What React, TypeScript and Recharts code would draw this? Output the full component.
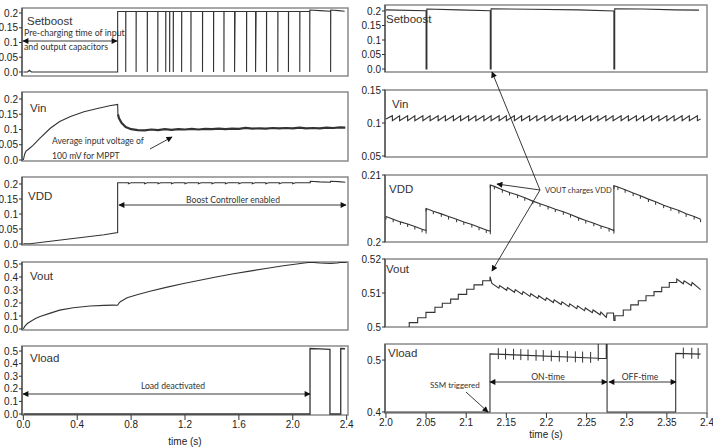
import React from "react";
import { ComposedChart, Line, Scatter, XAxis, YAxis, ReferenceArea } from "recharts";

type Pt = [number, number];

// axis ticks
const leftTimeTicks = [0, 0.4, 0.8, 1.2, 1.6, 2.0, 2.4];
const rightTimeTicks = [2.0, 2.05, 2.1, 2.15, 2.2, 2.25, 2.3, 2.35, 2.4];
const ticks02 = [0, 0.05, 0.1, 0.15, 0.2];
const ticks05 = [0, 0.1, 0.2, 0.3, 0.4, 0.5];
const vinRightTicks = [0.05, 0.1, 0.15];
const vddRightTicks = [0.2, 0.21];
const voutRightTicks = [0.5, 0.51, 0.52];
const vloadRightTicks = [0.4, 0.5];

// left column: whole run, 0 - 2.4 s
const setboostLeft: Pt[] = [
  [0, 0], [0.03, 0], [0.045, 0.006], [0.06, 0], [0.7, 0], [0.7, 0.205],
  [0.76, 0.205], [0.76, 0], [0.761, 0.205],
  [0.837, 0.205], [0.837, 0], [0.838, 0.205],
  [0.92, 0.205], [0.92, 0], [0.921, 0.205],
  [0.998, 0.205], [0.998, 0], [0.999, 0.205],
  [1.057, 0.205], [1.057, 0], [1.058, 0.205],
  [1.086, 0.205], [1.086, 0], [1.087, 0.205],
  [1.113, 0.205], [1.113, 0], [1.114, 0.205],
  [1.175, 0.205], [1.175, 0], [1.176, 0.205],
  [1.244, 0.205], [1.244, 0], [1.245, 0.205],
  [1.33, 0.205], [1.33, 0], [1.331, 0.205],
  [1.412, 0.205], [1.412, 0], [1.413, 0.205],
  [1.489, 0.205], [1.489, 0], [1.49, 0.205],
  [1.568, 0.205], [1.568, 0], [1.572, 0.205],
  [1.657, 0.205], [1.657, 0], [1.658, 0.205],
  [1.724, 0.205], [1.724, 0], [1.728, 0.205],
  [1.805, 0.205], [1.805, 0], [1.806, 0.205],
  [1.889, 0.205], [1.889, 0], [1.89, 0.205],
  [1.968, 0.205], [1.968, 0], [1.969, 0.205],
  [2.052, 0.205], [2.052, 0], [2.053, 0.205],
  [2.126, 0.205], [2.126, 0], [2.127, 0.21],
  [2.2, 0.208], [2.281, 0.206], [2.281, 0], [2.282, 0.21], [2.34, 0.208], [2.385, 0.206],
];

// Vin: charging curve, then the noisy MPPT plateau
const vinLeftRise: Pt[] = [
  [0, 0], [0.01, 0.02], [0.02, 0.029], [0.04, 0.036], [0.07, 0.047], [0.12, 0.07], [0.2, 0.104],
  [0.27, 0.126], [0.35, 0.143], [0.45, 0.158], [0.55, 0.169], [0.64, 0.178], [0.7, 0.182],
  [0.702, 0.15],
];
const vinLeftMppt: Pt[] = [
  [0.702, 0.15], [0.71, 0.137], [0.73, 0.121], [0.76, 0.108], [0.8, 0.101], [0.85, 0.098],
  [0.9, 0.097], [0.95, 0.1], [1.0, 0.098], [1.05, 0.101], [1.1, 0.099], [1.15, 0.101], [1.2, 0.1],
  [1.25, 0.102], [1.3, 0.1], [1.35, 0.102], [1.4, 0.101], [1.45, 0.103], [1.5, 0.101], [1.55, 0.103],
  [1.6, 0.102], [1.65, 0.105], [1.7, 0.103], [1.75, 0.104], [1.8, 0.103], [1.85, 0.105], [1.9, 0.104],
  [1.95, 0.105], [2.0, 0.104], [2.05, 0.106], [2.1, 0.104], [2.15, 0.105], [2.2, 0.104], [2.25, 0.106],
  [2.3, 0.105], [2.35, 0.107], [2.39, 0.106],
];

const vddLeft: Pt[] = [
  [0, 0.001], [0.05, 0.001], [0.2, 0.009], [0.4, 0.02], [0.6, 0.031], [0.7, 0.038], [0.7, 0.204],
  [0.78, 0.204], [0.78, 0.201], [0.8, 0.204], [0.9, 0.204], [0.9, 0.201], [0.92, 0.204],
  [1.0, 0.204], [1.0, 0.201], [1.02, 0.204], [1.1, 0.204], [1.1, 0.201], [1.12, 0.204],
  [1.2, 0.204], [1.2, 0.201], [1.22, 0.204], [1.3, 0.204], [1.3, 0.201], [1.32, 0.204],
  [1.4, 0.204], [1.4, 0.201], [1.42, 0.204], [1.5, 0.204], [1.5, 0.201], [1.52, 0.204],
  [1.6, 0.204], [1.6, 0.201], [1.62, 0.204], [1.7, 0.204], [1.7, 0.201], [1.72, 0.204],
  [1.8, 0.204], [1.8, 0.201], [1.82, 0.204], [1.9, 0.204], [1.9, 0.201], [1.92, 0.204],
  [2.0, 0.204], [2.0, 0.201], [2.02, 0.204], [2.13, 0.204], [2.13, 0.209], [2.2, 0.207],
  [2.28, 0.206], [2.28, 0.209], [2.34, 0.208], [2.39, 0.206],
];

const voutLeft: Pt[] = [
  [0, 0], [0.01, 0.02], [0.03, 0.042], [0.05, 0.056], [0.09, 0.08], [0.124, 0.097], [0.2, 0.122],
  [0.27, 0.145], [0.37, 0.163], [0.495, 0.177], [0.6, 0.182], [0.668, 0.184], [0.7, 0.183],
  [0.71, 0.2], [0.72, 0.21], [0.77, 0.24], [0.85, 0.265], [0.94, 0.29], [1.06, 0.32], [1.19, 0.35],
  [1.31, 0.375], [1.43, 0.4], [1.55, 0.423], [1.68, 0.445], [1.8, 0.466], [1.93, 0.486], [2.03, 0.5],
  [2.1, 0.51], [2.13, 0.514], [2.2, 0.508], [2.28, 0.504], [2.33, 0.508], [2.36, 0.514], [2.4, 0.512],
];

const vloadLeft: Pt[] = [
  [0, 0], [2.128, 0], [2.128, 0.52], [2.2, 0.517], [2.276, 0.514], [2.276, 0], [2.356, 0],
  [2.356, 0.52], [2.388, 0.518],
];

// right column: zoom 2.0 - 2.4 s
const setboostRight: Pt[] = [
  [2.0, 0.204], [2.05, 0.201], [2.05, 0], [2.051, 0], [2.051, 0.207], [2.09, 0.204], [2.13, 0.201],
  [2.13, 0], [2.131, 0], [2.131, 0.208], [2.18, 0.206], [2.24, 0.204], [2.284, 0.2], [2.284, 0],
  [2.285, 0], [2.285, 0.208], [2.32, 0.207], [2.36, 0.204], [2.39, 0.203],
];

const vinRightDrops = [
  2.008, 2.017, 2.027, 2.036, 2.046, 2.055, 2.065, 2.074, 2.084, 2.093, 2.103, 2.112, 2.122, 2.131,
  2.141, 2.15, 2.16, 2.169, 2.179, 2.188, 2.198, 2.207, 2.217, 2.226, 2.236, 2.245, 2.255, 2.264,
  2.274, 2.283, 2.293, 2.302, 2.312, 2.321, 2.331, 2.34, 2.35, 2.359, 2.369, 2.378, 2.388,
];
const vinRightLevels = { low: 0.1035, high: 0.111, start: 0.106, end: 0.106 };

const vddRight: Pt[] = [
  [2.0, 0.2038], [2.009, 0.2034], [2.018, 0.203], [2.027, 0.2027], [2.036, 0.2023], [2.045, 0.2019], [2.05, 0.2017],
  [2.05, 0.205], [2.059, 0.2046], [2.069, 0.2042], [2.078, 0.2038], [2.088, 0.2034], [2.097, 0.203],
  [2.107, 0.2026], [2.116, 0.2022], [2.125, 0.2018], [2.13, 0.2016],
  [2.13, 0.2085], [2.135, 0.2083], [2.145, 0.2078], [2.154, 0.2074], [2.164, 0.207], [2.173, 0.2066],
  [2.183, 0.2061], [2.192, 0.2057], [2.202, 0.2053], [2.211, 0.2049], [2.221, 0.2045], [2.23, 0.2041],
  [2.24, 0.2036], [2.249, 0.2032], [2.259, 0.2028], [2.268, 0.2024], [2.278, 0.202], [2.284, 0.2017],
  [2.284, 0.2084], [2.289, 0.2082], [2.298, 0.2078], [2.308, 0.2073], [2.317, 0.2069], [2.327, 0.2064],
  [2.336, 0.206], [2.346, 0.2055], [2.355, 0.2051], [2.365, 0.2047], [2.374, 0.2042], [2.384, 0.2038],
  [2.392, 0.2034],
];

const voutRight: Pt[] = [
  [2.029, 0.4995], [2.029, 0.5013], [2.0395, 0.5013], [2.0395, 0.5027], [2.0498, 0.5027], [2.0498, 0.5043],
  [2.061, 0.5043], [2.061, 0.5058], [2.0702, 0.5058], [2.0702, 0.507], [2.0806, 0.507], [2.0806, 0.5082],
  [2.0901, 0.5082], [2.0901, 0.5096], [2.1006, 0.5096], [2.1006, 0.5111], [2.1097, 0.5111], [2.1097, 0.5124],
  [2.1205, 0.5124], [2.1205, 0.5136], [2.1296, 0.5136], [2.1296, 0.5148],
  [2.132, 0.5128], [2.1407, 0.5114], [2.1417, 0.5122], [2.1504, 0.5108], [2.1514, 0.5116], [2.1601, 0.5102],
  [2.1611, 0.511], [2.1698, 0.5096], [2.1708, 0.5104], [2.1795, 0.509], [2.1805, 0.5098], [2.1892, 0.5084],
  [2.1902, 0.5092], [2.1989, 0.5078], [2.1999, 0.5086], [2.2086, 0.5072], [2.2096, 0.508], [2.2183, 0.5066],
  [2.2193, 0.5074], [2.228, 0.506], [2.229, 0.5068], [2.2377, 0.5054], [2.2387, 0.5062], [2.2474, 0.5048],
  [2.2484, 0.5056], [2.2571, 0.5042], [2.2581, 0.505], [2.2668, 0.5036], [2.2678, 0.5044], [2.2745, 0.5028],
  [2.2755, 0.5041], [2.2835, 0.5041], [2.284, 0.5019], [2.2854, 0.5019], [2.2854, 0.5033], [2.2957, 0.5033],
  [2.2957, 0.505], [2.305, 0.505], [2.305, 0.5065], [2.3144, 0.5065], [2.3144, 0.5077], [2.324, 0.5077],
  [2.324, 0.5092], [2.334, 0.5092], [2.334, 0.5104], [2.3436, 0.5104], [2.3436, 0.5117], [2.353, 0.5117],
  [2.353, 0.5131], [2.3623, 0.5131], [2.3623, 0.5141], [2.3705, 0.5127], [2.3715, 0.5136], [2.3805, 0.5122],
  [2.3815, 0.5131], [2.392, 0.511],
];

const vloadRight: Pt[] = [
  [2.0, 0.4], [2.1296, 0.4], [2.1296, 0.512], [2.2645, 0.5036], [2.2645, 0.531], [2.2645, 0.4985],
  [2.2645, 0.5036], [2.2745, 0.503], [2.2745, 0.531], [2.2755, 0.531], [2.2755, 0.4], [2.361, 0.4],
  [2.361, 0.513], [2.392, 0.5115],
];

const vloadRightSpikes: Pt[] = [
  [2.14, 0.5114], [2.149, 0.5108], [2.159, 0.5102], [2.168, 0.5096], [2.177, 0.509], [2.187, 0.5084],
  [2.196, 0.5079], [2.206, 0.5072], [2.216, 0.5066], [2.226, 0.506], [2.236, 0.5053], [2.245, 0.5048],
  [2.255, 0.5042], [2.3705, 0.5126], [2.381, 0.5122], [2.389, 0.5118],
];

const vinRight: Pt[] = [
  [2.0, vinRightLevels.start],
  ...vinRightDrops.flatMap((t): Pt[] => [[t, vinRightLevels.high], [t, vinRightLevels.low]]),
  [2.392, vinRightLevels.end],
];

const INK = "#333";
const BOX = "#8a8a8a";
const axisFont = { fontSize: 10, fill: "#222", fontFamily: "Liberation Sans, Arial, sans-serif" };

const fmt = (v: number) => (Number.isInteger(v) ? v.toFixed(1) : String(v));
const toRows = (pts: Pt[]) => pts.map(([t, v]) => ({ t, v }));

interface Series {
  rows: Pt[];
  width?: number;
}

interface PanelProps {
  left: number;
  top: number;
  width: number;
  height: number;
  axisW: number;
  xDomain: [number, number];
  yDomain: [number, number];
  yTicks: number[];
  series: Series[];
  xTicks?: number[];
  rightPad?: number;
  tickDots?: boolean;
  spikes?: Pt[];
}

const tickDot = (props: any) => (
  <line key={`d${props.index}`} x1={props.cx} x2={props.cx} y1={props.cy} y2={props.cy + 3} stroke={INK} strokeWidth={1} />
);

const spikeShape = (props: any) => (
  <line x1={props.cx} x2={props.cx} y1={props.cy - 6} y2={props.cy + 5} stroke={INK} strokeWidth={1} />
);

const PAD = 8;

function Panel(p: PanelProps) {
  const axisH = p.xTicks ? 22 : 0;
  const rp = p.rightPad ?? 3;
  const w = p.axisW + p.width + rp;
  const h = p.height + PAD * 2 + axisH;
  return (
    <div style={{ position: "absolute", left: p.left - p.axisW, top: p.top - PAD, width: w, height: h }}>
      <ComposedChart width={w} height={h} margin={{ top: PAD, right: rp, bottom: PAD, left: 0 }}>
        <XAxis
          type="number"
          dataKey="t"
          domain={p.xDomain}
          allowDataOverflow
          hide={!p.xTicks}
          ticks={p.xTicks}
          interval={0}
          tickFormatter={fmt}
          height={axisH}
          tickSize={5}
          tickMargin={1}
          tick={axisFont}
          axisLine={false}
          stroke={INK}
        />
        <YAxis
          type="number"
          domain={p.yDomain}
          allowDataOverflow
          ticks={p.yTicks}
          interval={0}
          tickFormatter={fmt}
          width={p.axisW}
          tickSize={3}
          tickMargin={1}
          tick={axisFont}
          stroke={INK}
        />
        <ReferenceArea
          x1={p.xDomain[0]}
          x2={p.xDomain[1]}
          y1={p.yDomain[0]}
          y2={p.yDomain[1]}
          fill="none"
          stroke={BOX}
          strokeWidth={1.5}
        />
        {p.series.map((s, i) => (
          <Line
            key={i}
            data={toRows(s.rows)}
            type="linear"
            dataKey="v"
            stroke={INK}
            strokeWidth={s.width ?? 1.1}
            dot={p.tickDots ? tickDot : false}
            activeDot={false}
            isAnimationActive={false}
          />
        ))}
        {p.spikes && (
          <Scatter data={toRows(p.spikes)} dataKey="v" shape={spikeShape} isAnimationActive={false} />
        )}
      </ComposedChart>
    </div>
  );
}

const LX: [number, number] = [-0.01, 2.41];
const RX: [number, number] = [1.9988, 2.4];

const labelFont = { fontFamily: "Liberation Sans, Arial, sans-serif", fontSize: 11.5, fill: "#333" };
const noteFont = { fontFamily: "Lato, 'Open Sans', sans-serif", fontSize: 8.6, fill: "#333" };

function Overlay() {
  const arrow = (x1: number, y1: number, x2: number, y2: number, both = false) => (
    <line
      x1={x1}
      y1={y1}
      x2={x2}
      y2={y2}
      stroke="#222"
      strokeWidth={0.9}
      markerEnd="url(#ah)"
      markerStart={both ? "url(#ah)" : undefined}
    />
  );
  return (
    <svg width={713} height={448} style={{ position: "absolute", left: 0, top: 0, pointerEvents: "none" }}>
      <defs>
        <marker id="ah" viewBox="0 0 10 10" refX="9" refY="5" markerWidth="7" markerHeight="6" markerUnits="userSpaceOnUse" orient="auto-start-reverse">
          <path d="M0,0 L10,5 L0,10 z" fill="#111" />
        </marker>
      </defs>
      {/* panel names */}
      <text x={27} y={25} {...labelFont}>Setboost</text>
      <text x={30} y={112} {...labelFont}>Vin</text>
      <text x={28} y={200} {...labelFont}>VDD</text>
      <text x={30} y={280} {...labelFont}>Vout</text>
      <text x={30} y={362} {...labelFont}>Vload</text>
      <text x={386} y={23} {...labelFont}>Setboost</text>
      <text x={392} y={108} {...labelFont}>Vin</text>
      <text x={389} y={193} {...labelFont}>VDD</text>
      <text x={386} y={273} {...labelFont}>Vout</text>
      <text x={388} y={357} {...labelFont}>Vload</text>

      {/* notes */}
      <text x={24} y={36} {...noteFont} fontSize={8.8}>Pre-charging time of input</text>
      <text x={24} y={50} {...noteFont} fontSize={8.8}>and output capacitors</text>
      {arrow(23, 41, 117, 41, true)}
      <text x={52} y={144} {...noteFont}>Average input voltage of</text>
      <text x={52} y={159} {...noteFont}>100 mV for MPPT</text>
      {arrow(150, 149, 172, 137)}
      <text x={233} y={203} textAnchor="middle" {...noteFont}>Boost Controller enabled</text>
      {arrow(119, 205, 346, 205, true)}
      <text x={173} y={389} textAnchor="middle" {...noteFont}>Load deactivated</text>
      {arrow(23, 394, 310, 394, true)}

      <text x={545} y={193} {...noteFont} fontSize={7.6}>VOUT charges VDD</text>
      {arrow(540, 190, 492, 72)}
      {arrow(540, 190, 497, 184)}
      {arrow(540, 190, 492, 271)}
      <text x={430} y={388} {...noteFont} fontSize={8}>SSM triggered</text>
      {arrow(466, 392, 488, 412)}
      <text x={548} y={380} textAnchor="middle" {...noteFont}>ON-time</text>
      {arrow(490, 382, 607, 382, true)}
      <text x={640} y={380} textAnchor="middle" {...noteFont}>OFF-time</text>
      {arrow(609, 382, 676, 382, true)}

      <text x={185} y={445} textAnchor="middle" {...axisFont}>time (s)</text>
      <text x={546} y={438} textAnchor="middle" {...axisFont}>time (s)</text>
    </svg>
  );
}

export default function App() {
  return (
    <div style={{ position: "absolute", left: 0, top: 0, width: 713, height: 448, background: "#fff", overflow: "hidden" }}>
      <Panel left={22} top={8} width={326} height={68} axisW={22} xDomain={LX} yDomain={[-0.0136, 0.217]} yTicks={ticks02} series={[{ rows: setboostLeft }]} />
      <Panel left={22} top={92} width={326} height={69} axisW={22} xDomain={LX} yDomain={[-0.0033, 0.223]} yTicks={ticks02} series={[{ rows: vinLeftRise }, { rows: vinLeftMppt, width: 2.2 }]} />
      <Panel left={22} top={177} width={326} height={68} axisW={22} xDomain={LX} yDomain={[-0.0033, 0.2233]} yTicks={ticks02} series={[{ rows: vddLeft }]} />
      <Panel left={22} top={262} width={326} height={68} axisW={22} xDomain={LX} yDomain={[-0.0077, 0.5154]} yTicks={ticks05} series={[{ rows: voutLeft }]} />
      <Panel left={22} top={346} width={326} height={69} axisW={22} xDomain={LX} yDomain={[-0.0079, 0.54]} yTicks={ticks05} series={[{ rows: vloadLeft, width: 1.3 }]} xTicks={leftTimeTicks} rightPad={12} />

      <Panel left={385} top={5} width={322} height={67} axisW={30} xDomain={RX} yDomain={[-0.0103, 0.2207]} yTicks={ticks02} series={[{ rows: setboostRight }]} />
      <Panel left={385} top={90} width={322} height={67} axisW={30} xDomain={RX} yDomain={[0.0485, 0.15]} yTicks={vinRightTicks} series={[{ rows: vinRight }]} />
      <Panel left={385} top={175} width={322} height={67} axisW={30} xDomain={RX} yDomain={[0.2, 0.21]} yTicks={vddRightTicks} series={[{ rows: vddRight }]} tickDots />
      <Panel left={385} top={259} width={322} height={68} axisW={30} xDomain={RX} yDomain={[0.5, 0.52]} yTicks={voutRightTicks} series={[{ rows: voutRight }]} />
      <Panel left={385} top={344} width={322} height={69} axisW={30} xDomain={RX} yDomain={[0.398, 0.531]} yTicks={vloadRightTicks} series={[{ rows: vloadRight }]} xTicks={rightTimeTicks} spikes={vloadRightSpikes} rightPad={6} />

      <Overlay />
    </div>
  );
}
